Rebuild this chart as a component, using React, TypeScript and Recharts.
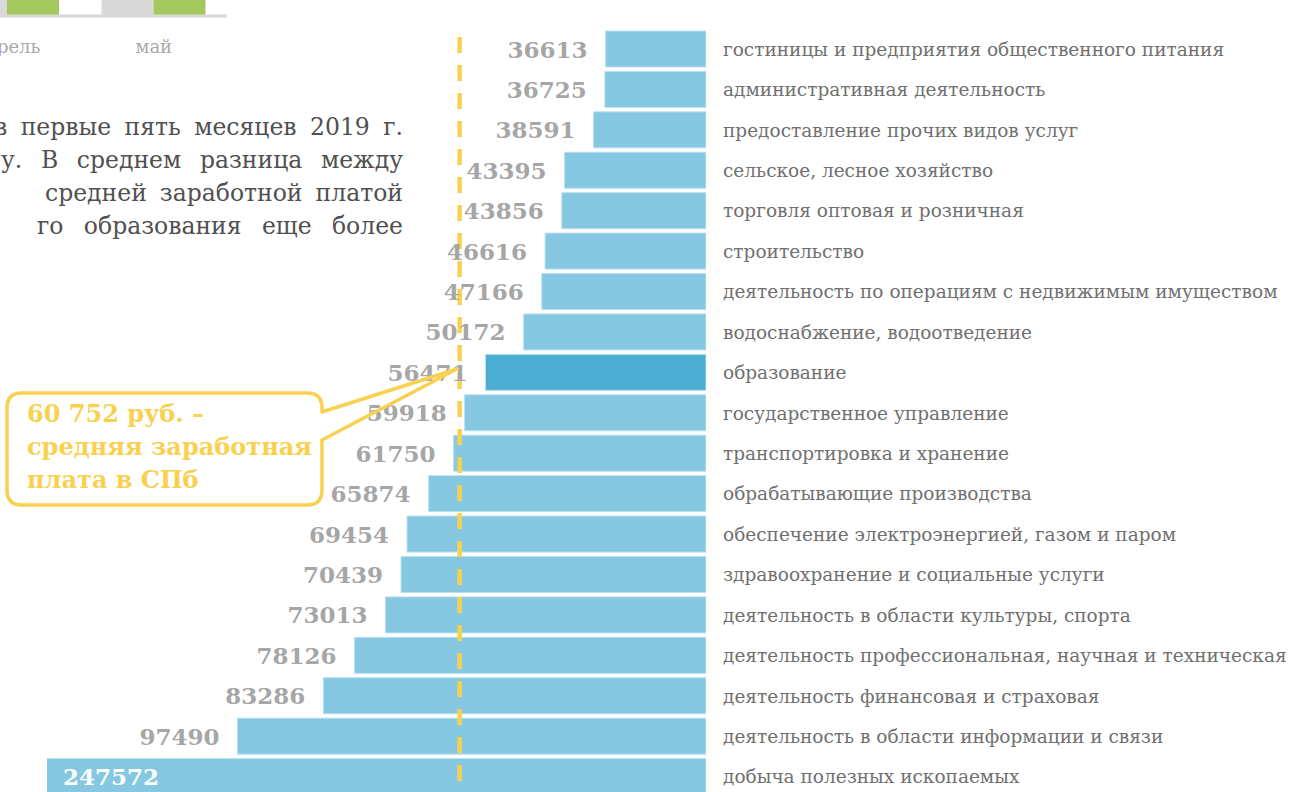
import { BarChart, Bar, XAxis, YAxis, Cell, LabelList, ReferenceLine } from 'recharts'

// средняя заработная плата по видам деятельности, руб.
const categories = [
  'гостиницы и предприятия общественного питания',
  'административная деятельность',
  'предоставление прочих видов услуг',
  'сельское, лесное хозяйство',
  'торговля оптовая и розничная',
  'строительство',
  'деятельность по операциям с недвижимым имуществом',
  'водоснабжение, водоотведение',
  'образование',
  'государственное управление',
  'транспортировка и хранение',
  'обрабатывающие производства',
  'обеспечение электроэнергией, газом и паром',
  'здравоохранение и социальные услуги',
  'деятельность в области культуры, спорта',
  'деятельность профессиональная, научная и техническая',
  'деятельность финансовая и страховая',
  'деятельность в области информации и связи',
  'добыча полезных ископаемых',
]
const salaries = [
  36613, 36725, 38591, 43395, 43856, 46616, 47166, 50172, 56471, 59918,
  61750, 65874, 69454, 70439, 73013, 78126, 83286, 97490, 247572,
]
const highlighted = 'образование'
const cityAverage = 60752

// обрезанный график по месяцам (виден только низ)
const months = ['апрель', 'май']
const monthsGray = [54000, 56000]
const monthsGreen = [58000, 60752]

const paragraphLines = [
  'в первые пять месяцев 2019 г.',
  'у. В среднем разница между',
  'средней заработной платой',
  'го образования еще более',
]

const calloutLines = ['60 752 руб. –', 'средняя заработная', 'плата в СПб']

const SERIF = "'DejaVu Serif', Georgia, serif"
const PLOT_LEFT = 47

const rows = categories.map((name, i) => ({ name, value: salaries[i] }))
const monthRows = months.map((month, i) => ({ month, gray: monthsGray[i], green: monthsGreen[i] }))

function ValueLabel(props: any) {
  const { x, y, width, height, value } = props
  const left = Math.min(x, x + width)
  const cy = y + height / 2
  const clipped = left < PLOT_LEFT
  return (
    <text
      x={clipped ? PLOT_LEFT + 16 : left - 18}
      y={cy}
      textAnchor={clipped ? 'start' : 'end'}
      dominantBaseline="central"
      fill={clipped ? '#ffffff' : '#a6a6a6'}
      fontFamily={SERIF}
      fontWeight={700}
      fontSize={23}
    >
      {value}
    </text>
  )
}

function DashedAverage(p: any) {
  return (
    <line
      x1={p.x1}
      y1={p.y1 - 16}
      x2={p.x2}
      y2={p.y2}
      stroke="#f8d150"
      strokeWidth={4.5}
      strokeDasharray="16 12"
    />
  )
}

export default function App() {
  const lineStarts = [-6, 1, 45, 37]
  return (
    <div style={{ position: 'absolute', left: 0, top: 0, width: 1293, height: 792, overflow: 'hidden', background: '#fff' }}>
      {/* мини-график по месяцам */}
      <div style={{ position: 'absolute', left: -66, top: -184 }}>
        <BarChart width={293} height={240} data={monthRows} margin={{ top: 0, right: 0, bottom: 0, left: 0 }} barGap={0}>
          <XAxis
            dataKey="month"
            height={40}
            tickLine={false}
            tickSize={0}
            tickMargin={24}
            axisLine={{ stroke: '#d9d9d9', strokeWidth: 3 }}
            tick={{ fontFamily: SERIF, fontSize: 18, fill: '#a9a9a9' }}
          />
          <YAxis hide domain={[0, 62000]} />
          <Bar dataKey="gray" fill="#d9d9d9" barSize={52} isAnimationActive={false} />
          <Bar dataKey="green" fill="#a2c85e" barSize={52} isAnimationActive={false} />
        </BarChart>
      </div>

      {/* обрезанный текст статьи, выровненный по ширине */}
      <div style={{ position: 'absolute', left: 0, top: 111, fontFamily: SERIF, fontSize: 23.5, lineHeight: '33px', color: '#505050' }}>
        {paragraphLines.map((t, i) => (
          <div
            key={i}
            style={{ marginLeft: lineStarts[i], width: 403 - lineStarts[i], textAlign: 'justify', textAlignLast: 'justify', whiteSpace: 'nowrap' }}
          >
            {t}
          </div>
        ))}
      </div>

      <div style={{ position: 'absolute', left: 0, top: 0 }}>
        <BarChart
          width={1293}
          height={797}
          data={rows}
          layout="vertical"
          margin={{ top: 29, right: 0, bottom: 0, left: PLOT_LEFT }}
        >
          <XAxis type="number" hide reversed allowDataOverflow domain={[20000, 129000]} />
          <YAxis
            type="category"
            dataKey="name"
            orientation="right"
            width={587}
            axisLine={false}
            tickLine={false}
            tickSize={0}
            tickMargin={17}
            interval={0}
            tick={{ fontFamily: SERIF, fontSize: 18.5, fill: '#707070' }}
          />
          <Bar dataKey="value" barSize={36} stroke="#b8e0f0" strokeWidth={1} isAnimationActive={false}>
            {rows.map((r) => (
              <Cell key={r.name} fill={r.name === highlighted ? '#4badd2' : '#86c8e2'} />
            ))}
            <LabelList dataKey="value" content={ValueLabel} />
          </Bar>
          <ReferenceLine x={cityAverage} shape={DashedAverage} />
        </BarChart>
      </div>

      {/* выноска со средней зарплатой */}
      <svg style={{ position: 'absolute', left: 0, top: 0 }} width={1293} height={792}>
        <path
          d="M 22 393 H 307 Q 322 393 322 408 V 412 L 457 369 L 322 440 V 490 Q 322 505 307 505 H 22 Q 7 505 7 490 V 408 Q 7 393 22 393 Z"
          fill="none"
          stroke="#f8d150"
          strokeWidth={3.5}
          strokeLinejoin="round"
        />
        {calloutLines.map((t, i) => (
          <text key={i} x={27} y={422 + i * 33} fontFamily={SERIF} fontWeight={700} fontSize={24} fill="#f8d150">
            {t}
          </text>
        ))}
      </svg>
    </div>
  )
}
